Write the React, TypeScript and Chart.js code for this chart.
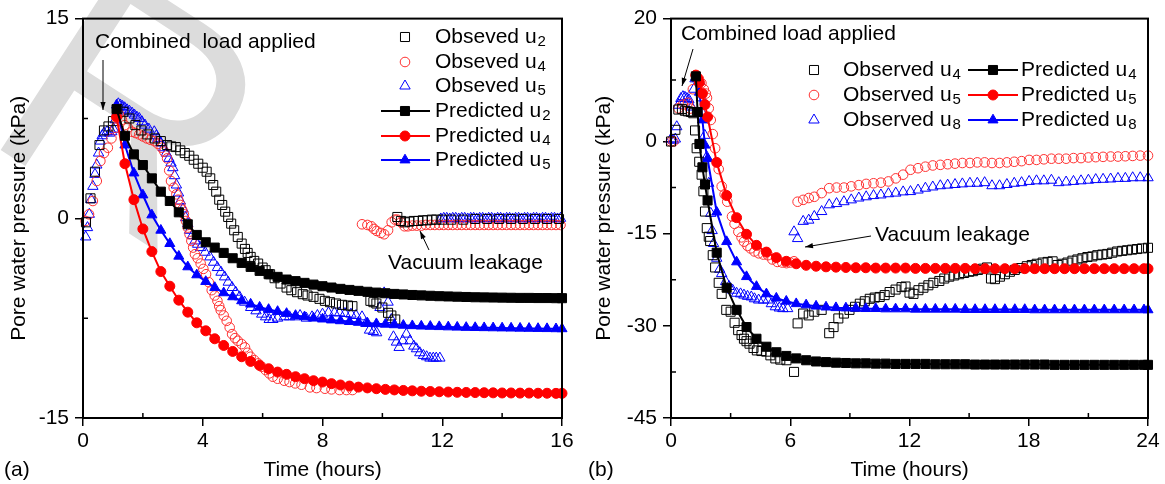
import React, { useEffect, useRef } from "react";
import { Chart, registerables } from "chart.js";

Chart.register(...registerables);

const FONT = "'Liberation Sans', Arial, Helvetica, sans-serif";
type Pt = [number, number];

// ---------------- Panel (a) ----------------
const aXTicks = [0, 4, 8, 12, 16];
const aYTicks = [-15, 0, 15];
const aXMinor = [2, 6, 10, 14];
const aYMinor = [-7.5, 7.5];

const aPredTime = [1.12, 1.4, 1.7, 2.0, 2.3, 2.6, 2.9, 3.2, 3.5, 3.8, 4.1, 4.4, 4.7, 5.0, 5.3, 5.6, 5.9, 6.2, 6.5, 6.8, 7.1, 7.4, 7.7, 8.0, 8.3, 8.6, 8.9, 9.2, 9.5, 9.8, 10.1, 10.4, 10.7, 11.0, 11.3, 11.6, 11.9, 12.2, 12.5, 12.8, 13.1, 13.4, 13.7, 14.0, 14.3, 14.6, 14.9, 15.2, 15.5, 15.8, 16.0];
const aPredU2 = [8.2, 6.2, 4.8, 4.0, 3.0, 2.0, 1.3, 0.45, -0.45, -1.25, -1.8, -2.2, -2.6, -3.0, -3.35, -3.65, -3.95, -4.2, -4.4, -4.6, -4.72, -4.85, -4.98, -5.1, -5.2, -5.3, -5.38, -5.45, -5.52, -5.58, -5.63, -5.68, -5.72, -5.76, -5.79, -5.82, -5.85, -5.87, -5.89, -5.91, -5.93, -5.94, -5.95, -5.96, -5.97, -5.98, -5.98, -5.99, -5.99, -6.0, -6.0];
const aPredU4 = [7.6, 4.1, 1.4, -0.8, -2.5, -4.0, -5.1, -6.15, -7.05, -7.85, -8.45, -9.05, -9.55, -10.0, -10.4, -10.75, -11.05, -11.3, -11.55, -11.72, -11.9, -12.05, -12.2, -12.3, -12.42, -12.52, -12.6, -12.68, -12.74, -12.8, -12.85, -12.89, -12.93, -12.96, -12.99, -13.01, -13.03, -13.05, -13.07, -13.08, -13.09, -13.1, -13.11, -13.12, -13.12, -13.13, -13.13, -13.14, -13.14, -13.15, -13.15];
const aPredU5 = [8.5, 5.5, 3.4, 1.75, 0.25, -0.9, -1.9, -2.85, -3.65, -4.25, -4.75, -5.2, -5.6, -5.9, -6.2, -6.45, -6.68, -6.85, -7.0, -7.15, -7.3, -7.4, -7.5, -7.57, -7.64, -7.7, -7.76, -7.82, -7.87, -7.92, -7.96, -8.0, -8.04, -8.07, -8.1, -8.12, -8.14, -8.16, -8.18, -8.2, -8.21, -8.22, -8.23, -8.24, -8.25, -8.26, -8.27, -8.28, -8.29, -8.3, -8.3];

const aObsU2: Pt[] = [
  [0.1, -0.3], [0.25, 1.5], [0.4, 3.5], [0.55, 5.5], [0.7, 6.6], [0.85, 6.9], [1.0, 7.3], [1.15, 8.2],
  [1.35, 8.0], [1.55, 7.5], [1.75, 7.0], [1.95, 6.6], [2.15, 6.3], [2.4, 6.0], [2.6, 5.8], [2.81, 5.5],
  [2.95, 5.4], [3.1, 5.35], [3.25, 5.1], [3.4, 4.9], [3.55, 4.7], [3.7, 4.4], [3.85, 4.1], [4.0, 3.8],
  [4.13, 3.5], [4.25, 3.0], [4.35, 2.5], [4.45, 2.0], [4.55, 1.4], [4.65, 1.0], [4.75, 0.5], [4.85, 0.1],
  [4.95, -0.4], [5.05, -0.9], [5.17, -1.4], [5.3, -1.9], [5.41, -2.3], [5.5, -2.6], [5.6, -2.9], [5.72, -3.2],
  [5.85, -3.4], [6.0, -3.7], [6.1, -3.9], [6.25, -4.2], [6.4, -4.5], [6.6, -4.9], [6.8, -5.2], [6.96, -5.4],
  [7.15, -5.55], [7.34, -5.7], [7.5, -5.8], [7.7, -5.9], [7.9, -6.05], [8.08, -6.2], [8.25, -6.3], [8.45, -6.4],
  [8.65, -6.5], [8.85, -6.55], [9.0, -6.6],
  [9.6, -6.2], [9.7, -6.3], [9.8, -6.4], [10.0, -6.7], [10.19, -7.1], [10.3, -7.3], [10.43, -7.6],
  [10.5, 0.1], [10.62, -0.2], [10.75, -0.3], [10.9, -0.25], [11.05, -0.2], [11.2, -0.2], [11.35, -0.15],
  [11.5, -0.15], [11.65, -0.1], [11.8, -0.1], [12.0, -0.1], [12.3, -0.1], [12.7, -0.1], [13.1, -0.05],
  [13.5, -0.05], [13.9, -0.05], [14.3, -0.05], [14.7, -0.05], [15.1, -0.05], [15.5, -0.05], [15.9, -0.05],
];

const aObsU4: Pt[] = [
  [0.09, -0.2], [0.2, 0.3], [0.33, 1.3], [0.46, 2.8], [0.58, 4.3], [0.7, 4.9], [0.83, 5.3], [0.95, 6.0],
  [1.08, 6.8], [1.2, 7.8], [1.3, 7.4], [1.39, 7.0], [1.5, 6.8], [1.64, 6.5], [1.76, 6.4], [1.88, 6.3],
  [2.0, 6.15], [2.13, 6.0], [2.25, 5.9], [2.38, 5.8], [2.5, 5.6], [2.63, 5.3], [2.72, 5.0], [2.81, 4.5],
  [2.88, 3.6], [2.94, 2.8], [3.03, 2.3], [3.12, 1.8], [3.18, 1.4], [3.25, 1.0], [3.31, 0.65], [3.37, 0.3],
  [3.44, -0.2], [3.5, -0.7], [3.56, -1.2], [3.62, -1.7], [3.68, -2.2], [3.74, -2.7], [3.83, -3.0], [3.93, -3.4],
  [4.02, -3.8], [4.11, -4.2], [4.2, -4.8], [4.3, -5.4], [4.4, -5.8], [4.49, -6.2], [4.55, -6.6], [4.6, -6.9],
  [4.7, -7.3], [4.8, -7.7], [4.9, -8.2], [4.98, -8.7], [5.08, -9.0], [5.17, -9.2], [5.3, -9.45], [5.41, -9.7],
  [5.5, -10.1], [5.6, -10.4], [5.72, -10.65], [5.85, -10.9], [5.97, -11.15], [6.1, -11.4], [6.22, -11.65],
  [6.34, -11.9], [6.5, -12.05], [6.72, -12.2], [6.9, -12.3], [7.09, -12.4], [7.3, -12.5], [7.58, -12.7],
  [7.8, -12.75], [8.08, -12.8], [8.3, -12.85], [8.57, -12.9], [8.8, -12.9], [9.0, -12.9],
  [9.32, -0.45], [9.5, -0.5], [9.63, -0.6], [9.72, -0.8], [9.81, -0.95], [9.95, -1.1], [10.06, -1.2],
  [10.19, -0.9], [10.31, -0.3], [10.42, -0.1], [10.5, -0.1], [10.62, -0.3], [10.74, -0.6], [10.85, -0.6],
  [11.0, -0.55], [11.15, -0.55], [11.3, -0.55], [11.45, -0.5], [11.6, -0.5], [11.75, -0.5], [11.9, -0.5],
  [12.05, -0.5], [12.2, -0.5], [12.35, -0.5], [12.5, -0.5], [12.65, -0.5], [12.8, -0.5], [12.95, -0.5],
  [13.1, -0.5], [13.25, -0.5], [13.4, -0.5], [13.55, -0.5], [13.7, -0.5], [13.85, -0.5], [14.0, -0.5],
  [14.15, -0.5], [14.3, -0.5], [14.45, -0.5], [14.6, -0.5], [14.75, -0.5], [14.9, -0.5], [15.05, -0.5],
  [15.2, -0.5], [15.35, -0.5], [15.5, -0.5], [15.65, -0.5], [15.8, -0.5], [15.95, -0.5],
];

const aObsU5: Pt[] = [
  [0.09, -1.4], [0.15, -0.7], [0.21, 0.3], [0.27, 1.4], [0.33, 2.4], [0.4, 3.3], [0.46, 4.0], [0.52, 4.9],
  [0.58, 5.8], [0.64, 6.2], [0.7, 6.4], [0.8, 6.5], [0.89, 6.4], [0.96, 6.5], [1.02, 6.7], [1.08, 7.4],
  [1.14, 8.0], [1.18, 8.6], [1.25, 8.5], [1.32, 8.4], [1.39, 8.3], [1.47, 8.15], [1.55, 8.05], [1.64, 7.9],
  [1.72, 7.75], [1.8, 7.6], [1.88, 7.5], [1.97, 7.25], [2.07, 7.0], [2.2, 6.7], [2.38, 6.5], [2.45, 6.2],
  [2.5, 6.0], [2.6, 5.65], [2.69, 5.3], [2.78, 4.9], [2.87, 4.5], [2.94, 4.15], [3.0, 3.8], [3.06, 3.2],
  [3.12, 2.5], [3.19, 1.9], [3.25, 1.3], [3.34, 0.7], [3.43, 0.05], [3.5, -0.4], [3.56, -0.9], [3.65, -1.3],
  [3.74, -1.7], [3.83, -1.95], [3.93, -2.2], [4.08, -2.55], [4.24, -2.9], [4.36, -3.3], [4.49, -3.7],
  [4.61, -4.05], [4.73, -4.4], [4.85, -4.8], [4.98, -5.2], [5.1, -5.55], [5.23, -5.9], [5.4, -6.3],
  [5.6, -6.7], [5.78, -6.95], [5.97, -7.2], [6.1, -7.4], [6.22, -7.6], [6.34, -7.6], [6.5, -7.5],
  [6.72, -7.4], [6.9, -7.4], [7.09, -7.4], [7.25, -7.3], [7.46, -7.5], [7.65, -7.4], [7.83, -7.3],
  [8.0, -7.2], [8.2, -7.1], [8.4, -7.1], [8.57, -7.1], [8.75, -7.15], [8.95, -7.2], [9.12, -7.3],
  [9.32, -7.4], [9.45, -7.9], [9.57, -8.4], [9.7, -8.5], [9.81, -8.6], [9.92, -6.7], [10.06, -5.6],
  [10.19, -6.3], [10.3, -7.6], [10.37, -8.9], [10.47, -9.3], [10.56, -9.7], [10.68, -9.2], [10.8, -8.7],
  [10.92, -9.2], [11.05, -9.6], [11.14, -9.8], [11.25, -10.1], [11.37, -10.3], [11.48, -10.4],
  [11.59, -10.5], [11.7, -10.5], [11.8, -10.5], [11.92, -10.5],
  [11.95, -0.05], [12.05, 0.0], [12.15, 0.0], [12.25, -0.05], [12.35, 0.0], [12.45, 0.0], [12.55, -0.05],
  [12.65, 0.0], [12.75, 0.0], [12.85, -0.05], [12.95, 0.0], [13.05, 0.0], [13.15, -0.05], [13.25, 0.0],
  [13.35, 0.0], [13.45, -0.05], [13.55, 0.0], [13.65, 0.0], [13.75, -0.05], [13.85, 0.0], [13.95, 0.0],
  [14.05, -0.05], [14.15, 0.0], [14.25, 0.0], [14.35, -0.05], [14.45, 0.0], [14.55, 0.0], [14.65, -0.05],
  [14.75, 0.0], [14.85, 0.0], [14.95, -0.05], [15.05, 0.0], [15.15, 0.0], [15.25, -0.05], [15.35, 0.0],
  [15.45, 0.0], [15.55, -0.05], [15.65, 0.0], [15.75, 0.0], [15.85, -0.05], [15.95, 0.0],
];

// ---------------- Panel (b) ----------------
const bXTicks = [0, 6, 12, 18, 24];
const bYTicks = [-45, -30, -15, 0, 20];
const bXMinor = [3, 9, 15, 21];
const bYMinor = [-37.5, -22.5, -7.5, 10];

const bPredTime = [1.25, 1.34, 1.43, 1.58, 1.71, 1.84, 2.3, 2.8, 3.3, 3.8, 4.3, 4.8, 5.3, 5.8, 6.3, 6.8, 7.3, 7.8, 8.3, 8.8, 9.3, 9.8, 10.3, 10.8, 11.3, 11.8, 12.3, 12.8, 13.3, 13.8, 14.3, 14.8, 15.3, 15.8, 16.3, 16.8, 17.3, 17.8, 18.3, 18.8, 19.3, 19.8, 20.3, 20.8, 21.3, 21.8, 22.3, 22.8, 23.3, 23.8, 24.0];
const bPredU4 = [10.6, 4.8, -0.4, -4.2, -7.0, -9.6, -18.1, -23.8, -27.4, -30.2, -32.1, -33.4, -34.3, -34.9, -35.3, -35.6, -35.8, -35.9, -36.0, -36.05, -36.1, -36.1, -36.15, -36.15, -36.2, -36.2, -36.2, -36.2, -36.25, -36.25, -36.25, -36.25, -36.3, -36.3, -36.3, -36.3, -36.3, -36.3, -36.3, -36.3, -36.35, -36.35, -36.35, -36.35, -36.35, -36.35, -36.35, -36.35, -36.35, -36.35, -36.35];
const bPredU5 = [10.8, 10.3, 9.6, 7.8, 6.0, 4.0, -3.4, -8.8, -12.4, -15.1, -16.9, -18.0, -18.9, -19.5, -19.9, -20.15, -20.3, -20.4, -20.45, -20.5, -20.55, -20.55, -20.6, -20.6, -20.6, -20.6, -20.65, -20.65, -20.65, -20.65, -20.65, -20.65, -20.7, -20.7, -20.7, -20.7, -20.7, -20.7, -20.7, -20.7, -20.7, -20.7, -20.7, -20.7, -20.7, -20.7, -20.7, -20.7, -20.7, -20.7, -20.7];
const bPredU8 = [10.5, 10.2, 8.0, 3.5, -0.6, -2.8, -11.5, -16.3, -19.6, -22.0, -23.6, -24.8, -25.5, -26.0, -26.4, -26.6, -26.8, -26.95, -27.05, -27.1, -27.15, -27.2, -27.2, -27.25, -27.25, -27.25, -27.3, -27.3, -27.3, -27.3, -27.3, -27.35, -27.35, -27.35, -27.35, -27.35, -27.35, -27.35, -27.4, -27.4, -27.4, -27.4, -27.4, -27.4, -27.4, -27.4, -27.4, -27.4, -27.4, -27.4, -27.4];

const bObsU4: Pt[] = [
  [0.0, 0.0], [0.22, 1.9], [0.37, 5.2], [0.55, 5.3], [0.7, 5.0], [0.85, 4.9], [1.0, 4.8], [1.12, 4.6],
  [1.21, 1.8], [1.29, -1.1], [1.42, -3.3], [1.54, -5.4], [1.63, -8.1], [1.71, -11.4], [1.8, -14.1],
  [1.9, -15.5], [1.97, -16.2], [2.1, -18.5], [2.22, -20.5], [2.4, -23.0], [2.55, -24.8], [2.78, -27.4],
  [3.0, -27.7], [3.2, -29.5], [3.38, -30.7], [3.55, -31.5], [3.67, -32.1], [3.8, -32.5], [3.95, -32.9],
  [4.15, -33.6], [4.32, -34.0], [4.55, -34.1], [4.79, -34.2], [5.0, -34.8], [5.25, -35.3], [5.5, -35.5],
  [5.81, -35.6], [6.19, -37.5],
  [6.37, -29.6], [6.65, -28.0], [6.93, -28.3], [7.21, -27.7], [7.58, -27.4], [7.96, -31.2], [8.18, -30.2],
  [8.42, -28.8], [8.7, -28.0], [8.98, -27.4], [9.26, -26.9], [9.5, -26.4], [9.75, -26.0], [10.0, -25.6],
  [10.25, -25.4], [10.5, -25.3], [10.75, -25.0], [11.0, -24.5], [11.3, -24.1], [11.6, -23.7], [11.8, -23.6],
  [12.0, -24.6], [12.2, -24.8], [12.45, -24.2], [12.7, -23.8], [12.95, -23.4], [13.2, -23.0], [13.5, -22.7],
  [13.75, -22.3], [14.0, -22.0], [14.25, -21.8], [14.5, -21.6], [14.75, -21.4], [15.0, -21.2], [15.2, -21.1],
  [15.45, -20.9], [15.7, -20.7], [15.9, -20.5], [16.1, -22.3], [16.3, -22.4], [16.55, -22.0], [16.8, -21.6],
  [17.05, -21.2], [17.3, -20.9], [17.6, -20.6], [17.9, -20.3], [18.15, -20.1], [18.4, -19.9], [18.7, -19.7],
  [18.95, -19.6], [19.2, -19.5], [19.45, -20.1], [19.7, -19.9], [19.95, -19.7], [20.2, -19.4], [20.45, -19.2],
  [20.7, -19.0], [20.95, -18.8], [21.2, -18.7], [21.45, -18.5], [21.7, -18.4], [21.95, -18.3], [22.2, -18.1],
  [22.45, -17.9], [22.7, -17.8], [22.95, -17.7], [23.2, -17.6], [23.45, -17.5], [23.7, -17.4], [24.0, -17.3],
];

const bObsU5: Pt[] = [
  [0.0, 0.0], [0.12, 0.0], [0.37, 5.4], [0.6, 6.0], [0.85, 6.3], [0.96, 5.35], [1.1, 8.5], [1.25, 10.8],
  [1.4, 10.2], [1.53, 9.5], [1.65, 8.5], [1.75, 7.8], [1.81, 7.1], [1.9, 5.4], [2.0, 3.5], [2.1, 1.2],
  [2.22, -1.1], [2.4, -4.5], [2.55, -7.3], [2.7, -8.6], [2.83, -9.8], [3.07, -12.2], [3.2, -13.4],
  [3.39, -14.7], [3.55, -15.6], [3.67, -16.3], [3.85, -17.0], [4.0, -17.4], [4.2, -17.9], [4.41, -18.2],
  [4.65, -18.4], [4.88, -18.5], [5.1, -19.2], [5.35, -19.6], [5.6, -19.7], [5.81, -19.8], [6.0, -19.7],
  [6.19, -19.5],
  [6.37, -9.8], [6.65, -9.5], [6.93, -9.2], [7.21, -9.0], [7.58, -8.4], [7.96, -7.6], [8.33, -7.5],
  [8.7, -7.5], [9.07, -7.3], [9.45, -7.1], [9.82, -6.9], [10.19, -6.8], [10.56, -6.7], [10.94, -6.5],
  [11.31, -6.0], [11.68, -5.4], [12.05, -4.6], [12.43, -4.35], [12.8, -4.1], [13.17, -3.9], [13.55, -3.8],
  [13.92, -3.7], [14.29, -3.6], [14.66, -3.5], [15.04, -3.5], [15.41, -3.4], [15.78, -3.4], [16.15, -3.5],
  [16.53, -3.5], [16.9, -3.4], [17.27, -3.3], [17.64, -3.2], [18.02, -3.0], [18.39, -3.0], [18.76, -2.9],
  [19.14, -2.8], [19.51, -2.8], [19.88, -2.8], [20.25, -2.7], [20.63, -2.7], [21.0, -2.6], [21.37, -2.55],
  [21.74, -2.5], [22.12, -2.45], [22.49, -2.45], [22.86, -2.4], [23.23, -2.35], [23.61, -2.3], [24.0, -2.3],
];

const bObsU8: Pt[] = [
  [0.0, 0.4], [0.12, 0.2], [0.22, 0.4], [0.29, 2.4], [0.37, 5.9], [0.5, 7.0], [0.6, 7.3], [0.7, 7.2],
  [0.8, 7.0], [0.9, 6.8], [1.04, 5.6], [1.15, 8.5], [1.21, 10.2], [1.3, 10.5], [1.43, 9.8], [1.53, 7.1],
  [1.6, 4.5], [1.7, 1.0], [1.8, -2.5], [1.9, -6.8], [2.0, -11.7], [2.07, -14.5], [2.14, -16.6],
  [2.3, -19.0], [2.45, -20.8], [2.55, -21.5], [2.75, -22.8], [2.92, -23.6], [3.1, -24.2], [3.3, -24.7],
  [3.5, -24.8], [3.67, -25.0], [3.85, -25.2], [4.04, -25.3], [4.2, -25.6], [4.41, -25.8], [4.65, -25.8],
  [4.88, -25.8], [5.05, -26.4], [5.25, -26.9], [5.45, -27.1], [5.63, -27.2], [5.87, -27.2],
  [6.19, -14.7], [6.37, -15.8], [6.65, -13.0], [6.93, -12.8], [7.21, -12.2], [7.58, -11.4], [7.96, -10.3],
  [8.33, -10.1], [8.7, -9.8], [9.07, -9.5], [9.45, -9.2], [9.82, -9.0], [10.19, -8.8], [10.56, -8.7],
  [10.94, -8.5], [11.31, -8.4], [11.68, -8.2], [12.05, -8.15], [12.43, -7.9], [12.8, -7.6], [13.17, -7.4],
  [13.55, -7.2], [13.92, -7.1], [14.29, -7.0], [14.66, -6.9], [15.04, -6.8], [15.41, -6.8], [15.78, -6.7],
  [16.15, -7.2], [16.53, -7.2], [16.9, -7.0], [17.27, -6.8], [17.64, -6.7], [18.02, -6.5], [18.39, -6.4],
  [18.76, -6.4], [19.14, -6.3], [19.51, -6.7], [19.88, -6.6], [20.25, -6.5], [20.63, -6.4], [21.0, -6.3],
  [21.37, -6.2], [21.74, -6.15], [22.12, -6.1], [22.49, -6.0], [22.86, -6.0], [23.23, -5.9], [23.61, -5.9],
  [24.0, -5.9],
];

// ---------------- styling ----------------
const BLACK = "#000000";
const RED = "#ff0000";
const RED_OBS = "#ff3030";
const BLUE = "#0000ff";

type Style = "rect" | "circle" | "triangle";
const R: Record<Style, number> = { rect: 6.4, circle: 4.8, triangle: 6.0 };

function zip(t: number[], v: number[]) {
  const n = Math.min(t.length, v.length);
  const out: { x: number; y: number }[] = [];
  for (let i = 0; i < n; i++) out.push({ x: t[i], y: v[i] });
  return out;
}
function pts(p: Pt[]) {
  return p.map(([x, y]) => ({ x, y }));
}

function predDs(data: any[], style: Style, color: string) {
  return {
    data, showLine: true, borderColor: color, borderWidth: 2, tension: 0,
    pointStyle: style, pointRadius: style === "circle" ? 5 : style === "rect" ? 6.4 : 5.8,
    pointBackgroundColor: color, pointBorderColor: color, pointBorderWidth: 1, clip: false,
  };
}
function obsDs(data: any[], style: Style, color: string) {
  return {
    data, showLine: false, pointStyle: style, pointRadius: R[style],
    pointBackgroundColor: "rgba(0,0,0,0)", pointBorderColor: color, pointBorderWidth: 1, clip: false,
  };
}

function drawMarker(ctx: CanvasRenderingContext2D, style: Style, x: number, y: number, r: number, color: string, filled: boolean) {
  ctx.save();
  ctx.beginPath();
  if (style === "rect") {
    const s = r * Math.SQRT1_2;
    ctx.rect(x - s, y - s, 2 * s, 2 * s);
  } else if (style === "circle") {
    ctx.arc(x, y, r, 0, Math.PI * 2);
  } else {
    for (let k = 0; k < 3; k++) {
      const ang = (k * 2 * Math.PI) / 3;
      const px = x + Math.sin(ang) * r;
      const py = y - Math.cos(ang) * r;
      if (k === 0) ctx.moveTo(px, py);
      else ctx.lineTo(px, py);
    }
    ctx.closePath();
  }
  if (filled) {
    ctx.fillStyle = color;
    ctx.fill();
  }
  ctx.strokeStyle = color;
  ctx.lineWidth = 1;
  ctx.stroke();
  ctx.restore();
}

function drawArrow(ctx: CanvasRenderingContext2D, x1: number, y1: number, x2: number, y2: number) {
  ctx.save();
  ctx.strokeStyle = "#000";
  ctx.fillStyle = "#000";
  ctx.lineWidth = 1;
  ctx.beginPath();
  ctx.moveTo(x1, y1);
  ctx.lineTo(x2, y2);
  ctx.stroke();
  const ang = Math.atan2(y2 - y1, x2 - x1);
  const L = 8, W = 2.6;
  ctx.beginPath();
  ctx.moveTo(x2, y2);
  ctx.lineTo(x2 - L * Math.cos(ang) + W * Math.sin(ang), y2 - L * Math.sin(ang) - W * Math.cos(ang));
  ctx.lineTo(x2 - L * Math.cos(ang) - W * Math.sin(ang), y2 - L * Math.sin(ang) + W * Math.cos(ang));
  ctx.closePath();
  ctx.fill();
  ctx.restore();
}

function drawSubText(ctx: CanvasRenderingContext2D, x: number, y: number, main: string, sub: string) {
  ctx.font = `21px ${FONT}`;
  ctx.textAlign = "left";
  ctx.textBaseline = "middle";
  ctx.fillStyle = "#000";
  ctx.fillText(main, x, y);
  const w = ctx.measureText(main).width;
  ctx.font = `15px ${FONT}`;
  ctx.fillText(sub, x + w + 1, y + 5);
}

interface LegendItem { style: Style; color: string; filled: boolean; line: [number, number] | null; mx: number; y: number; tx: number; main: string; sub: string; }
interface Note { text: string; x: number; y: number; }
interface Watermark { text: string; x: number; y: number; size: number; angle: number; }
interface PanelSpec {
  xMax: number; yMin: number; yMax: number;
  xTicks: number[]; yTicks: number[]; xMinor: number[]; yMinor: number[];
  yAxisWidth: number; padRight: number; datasets: any[];
  legend: LegendItem[]; notes: Note[]; arrows: [number, number, number, number][];
  yTitleX: number; tag: string; tagX: number; watermark: Watermark | null;
}

function buildConfig(spec: PanelSpec): any {
  const decor = {
    id: "decor",
    beforeDraw(chart: any) {
      const wm = spec.watermark;
      if (!wm) return;
      const ctx: CanvasRenderingContext2D = chart.ctx;
      ctx.save();
      ctx.translate(wm.x, wm.y);
      ctx.rotate(wm.angle);
      ctx.font = `${wm.size}px ${FONT}`;
      ctx.fillStyle = "#dcdcdc";
      ctx.textAlign = "left";
      ctx.textBaseline = "alphabetic";
      ctx.fillText(wm.text, 0, 0);
      ctx.restore();
    },
    afterDraw(chart: any) {
      const ctx: CanvasRenderingContext2D = chart.ctx;
      const a = chart.chartArea;
      const xs = chart.scales.x;
      const ys = chart.scales.y;
      ctx.save();
      ctx.strokeStyle = "#000";
      ctx.lineWidth = 2;
      ctx.strokeRect(a.left, a.top, a.right - a.left, a.bottom - a.top);
      ctx.lineWidth = 1.5;
      ctx.beginPath();
      spec.xMinor.forEach((v) => {
        const px = xs.getPixelForValue(v);
        ctx.moveTo(px, a.bottom);
        ctx.lineTo(px, a.bottom - 5);
      });
      spec.yMinor.forEach((v) => {
        const py = ys.getPixelForValue(v);
        ctx.moveTo(a.left, py);
        ctx.lineTo(a.left + 5, py);
      });
      ctx.stroke();

      spec.legend.forEach((it) => {
        if (it.line) {
          ctx.save();
          ctx.strokeStyle = it.color;
          ctx.lineWidth = 2;
          ctx.beginPath();
          ctx.moveTo(it.line[0], it.y);
          ctx.lineTo(it.line[1], it.y);
          ctx.stroke();
          ctx.restore();
        }
        const r = it.filled ? (it.style === "circle" ? 5 : it.style === "rect" ? 6.4 : 5.8) : R[it.style];
        drawMarker(ctx, it.style, it.mx, it.y, r, it.color, it.filled);
        drawSubText(ctx, it.tx, it.y, it.main, it.sub);
      });

      ctx.font = `21px ${FONT}`;
      ctx.fillStyle = "#000";
      ctx.textAlign = "left";
      ctx.textBaseline = "middle";
      spec.notes.forEach((n) => ctx.fillText(n.text, n.x, n.y));
      spec.arrows.forEach((ar) => drawArrow(ctx, ar[0], ar[1], ar[2], ar[3]));

      ctx.textAlign = "center";
      ctx.fillText("Time (hours)", (a.left + a.right) / 2, 470);
      ctx.save();
      ctx.translate(spec.yTitleX, (a.top + a.bottom) / 2);
      ctx.rotate(-Math.PI / 2);
      ctx.fillText("Pore water pressure (kPa)", 0, 0);
      ctx.restore();
      ctx.textAlign = "left";
      ctx.fillText(spec.tag, spec.tagX, 470);
      ctx.restore();
    },
  };

  const tickFont = { size: 21, family: FONT };
  return {
    type: "scatter",
    data: { datasets: spec.datasets },
    plugins: [decor],
    options: {
      responsive: false,
      maintainAspectRatio: false,
      animation: false,
      devicePixelRatio: 1,
      events: [],
      layout: { padding: { top: 16, right: spec.padRight, left: 0, bottom: 0 } },
      plugins: { legend: { display: false }, tooltip: { enabled: false } },
      scales: {
        x: {
          type: "linear", min: 0, max: spec.xMax,
          afterBuildTicks: (s: any) => { s.ticks = spec.xTicks.map((v) => ({ value: v })); },
          afterFit: (s: any) => { s.height = 66; },
          grid: { drawOnChartArea: false, drawTicks: true, tickLength: 8, color: "#000", lineWidth: 1.5 },
          border: { display: false },
          ticks: { color: "#000", font: tickFont, padding: 3, maxRotation: 0, autoSkip: false },
        },
        y: {
          type: "linear", min: spec.yMin, max: spec.yMax,
          afterBuildTicks: (s: any) => { s.ticks = spec.yTicks.map((v) => ({ value: v })); },
          afterFit: (s: any) => { s.width = spec.yAxisWidth; },
          grid: { drawOnChartArea: false, drawTicks: true, tickLength: 8, color: "#000", lineWidth: 1.5 },
          border: { display: false },
          ticks: { color: "#000", font: tickFont, padding: 6, autoSkip: false },
        },
      },
    },
  };
}

const specA: PanelSpec = {
  xMax: 16, yMin: -15, yMax: 15,
  xTicks: aXTicks, yTicks: aYTicks, xMinor: aXMinor, yMinor: aYMinor,
  yAxisWidth: 83, padRight: 20,
  datasets: [
    predDs(zip(aPredTime, aPredU2), "rect", BLACK),
    predDs(zip(aPredTime, aPredU4), "circle", RED),
    predDs(zip(aPredTime, aPredU5), "triangle", BLUE),
    obsDs(pts(aObsU2), "rect", BLACK),
    obsDs(pts(aObsU4), "circle", RED_OBS),
    obsDs(pts(aObsU5), "triangle", BLUE),
  ],
  legend: [
    { style: "rect", color: BLACK, filled: false, line: null, mx: 405, y: 37, tx: 435, main: "Obseved u", sub: "2" },
    { style: "circle", color: RED_OBS, filled: false, line: null, mx: 405, y: 62, tx: 435, main: "Obseved u", sub: "4" },
    { style: "triangle", color: BLUE, filled: false, line: null, mx: 405, y: 86, tx: 435, main: "Obseved u", sub: "5" },
    { style: "rect", color: BLACK, filled: true, line: [381, 430], mx: 405, y: 111, tx: 435, main: "Predicted u", sub: "2" },
    { style: "circle", color: RED, filled: true, line: [381, 430], mx: 405, y: 136, tx: 435, main: "Predicted u", sub: "4" },
    { style: "triangle", color: BLUE, filled: true, line: [381, 430], mx: 405, y: 160, tx: 435, main: "Predicted u", sub: "5" },
  ],
  notes: [
    { text: "Combined  load applied", x: 95, y: 42 },
    { text: "Vacuum leakage", x: 388, y: 263 },
  ],
  arrows: [
    [103, 60, 103, 110],
    [429, 250, 420, 231],
  ],
  yTitleX: 19, tag: "(a)", tagX: 4,
  watermark: { text: "R", x: -21, y: 136, size: 315, angle: (33 * Math.PI) / 180 },
};

const specB: PanelSpec = {
  xMax: 24, yMin: -45, yMax: 20,
  xTicks: bXTicks, yTicks: bYTicks, xMinor: bXMinor, yMinor: bYMinor,
  yAxisWidth: 89, padRight: 17,
  datasets: [
    predDs(zip(bPredTime, bPredU4), "rect", BLACK),
    predDs(zip(bPredTime, bPredU5), "circle", RED),
    predDs(zip(bPredTime, bPredU8), "triangle", BLUE),
    obsDs(pts(bObsU4), "rect", BLACK),
    obsDs(pts(bObsU5), "circle", RED_OBS),
    obsDs(pts(bObsU8), "triangle", BLUE),
  ],
  legend: [
    { style: "rect", color: BLACK, filled: false, line: null, mx: 232, y: 70, tx: 261, main: "Observed u", sub: "4" },
    { style: "circle", color: RED_OBS, filled: false, line: null, mx: 232, y: 95, tx: 261, main: "Observed u", sub: "5" },
    { style: "triangle", color: BLUE, filled: false, line: null, mx: 232, y: 120, tx: 261, main: "Observed u", sub: "8" },
    { style: "rect", color: BLACK, filled: true, line: [386, 436], mx: 411, y: 70, tx: 439, main: "Predicted u", sub: "4" },
    { style: "circle", color: RED, filled: true, line: [386, 436], mx: 411, y: 95, tx: 439, main: "Predicted u", sub: "5" },
    { style: "triangle", color: BLUE, filled: true, line: [386, 436], mx: 411, y: 120, tx: 439, main: "Predicted u", sub: "8" },
  ],
  notes: [
    { text: "Combined load applied", x: 99, y: 34 },
    { text: "Vacuum leakage", x: 293, y: 235 },
  ],
  arrows: [
    [111, 49, 100, 86],
    [289, 236, 223, 247],
  ],
  yTitleX: 22, tag: "(b)", tagX: 6, watermark: null,
};

export default function App() {
  const refA = useRef<HTMLCanvasElement>(null);
  const refB = useRef<HTMLCanvasElement>(null);
  useEffect(() => {
    const ca = new Chart(refA.current as HTMLCanvasElement, buildConfig(specA));
    const cb = new Chart(refB.current as HTMLCanvasElement, buildConfig(specB));
    return () => {
      ca.destroy();
      cb.destroy();
    };
  }, []);
  return (
    <div style={{ position: "fixed", left: 0, top: 0, width: 1165, height: 484, background: "#fff", overflow: "hidden" }}>
      <canvas ref={refA} width={582} height={484} style={{ position: "absolute", left: 0, top: 0, width: 582, height: 484 }} />
      <canvas ref={refB} width={583} height={484} style={{ position: "absolute", left: 582, top: 0, width: 583, height: 484 }} />
    </div>
  );
}
